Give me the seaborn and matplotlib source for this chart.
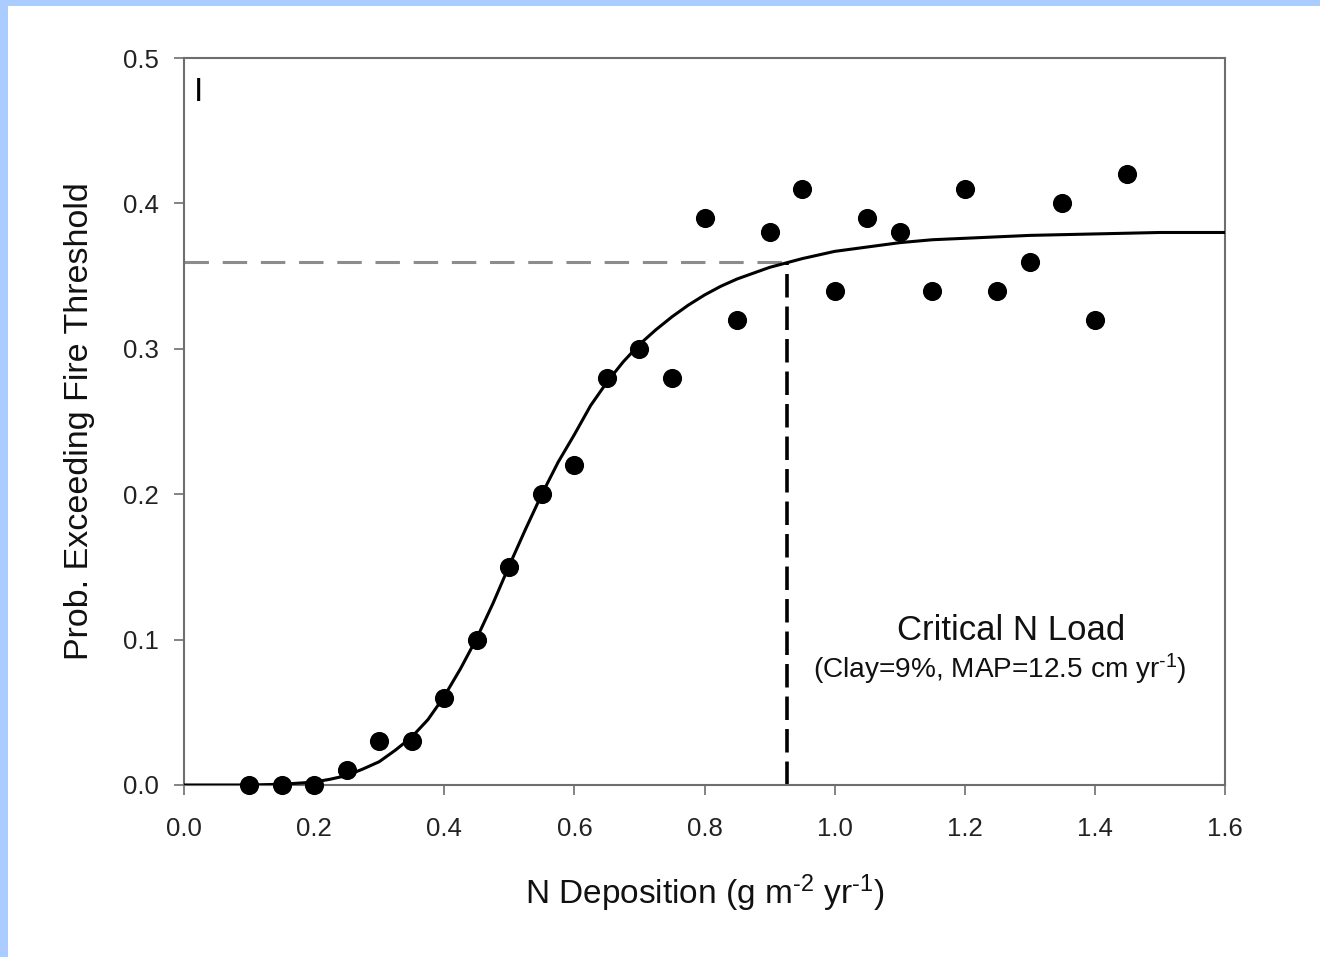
import matplotlib
matplotlib.use("Agg")
import matplotlib.pyplot as plt
import seaborn as sns
import pandas as pd
from matplotlib.patches import Rectangle

# Observed probability of exceeding the fire threshold
n_deposition = [0.10, 0.15, 0.20, 0.25, 0.30, 0.35, 0.40, 0.45, 0.50, 0.55,
                0.60, 0.65, 0.70, 0.75, 0.80, 0.85, 0.90, 0.95, 1.00, 1.05,
                1.10, 1.15, 1.20, 1.25, 1.30, 1.35, 1.40, 1.45]
prob_exceed = [0.00, 0.00, 0.00, 0.01, 0.03, 0.03, 0.06, 0.10, 0.15, 0.20,
               0.22, 0.28, 0.30, 0.28, 0.39, 0.32, 0.38, 0.41, 0.34, 0.39,
               0.38, 0.34, 0.41, 0.34, 0.36, 0.40, 0.32, 0.42]

# Fitted response curve
fit_x = [0.00, 0.05, 0.10, 0.15, 0.20, 0.225, 0.25, 0.275, 0.30, 0.325,
         0.35, 0.375, 0.40, 0.425, 0.45, 0.475, 0.50, 0.525, 0.55, 0.575,
         0.60, 0.625, 0.65, 0.675, 0.70, 0.725, 0.75, 0.775, 0.80, 0.825,
         0.85, 0.875, 0.90, 0.95, 1.00, 1.05, 1.10, 1.15, 1.20, 1.30,
         1.40, 1.50, 1.60]
fit_y = [0.000, 0.000, 0.000, 0.0005, 0.002, 0.004, 0.0065, 0.011, 0.016, 0.024,
         0.033, 0.045, 0.061, 0.080, 0.101, 0.125, 0.151, 0.176, 0.200, 0.222,
         0.241, 0.261, 0.277, 0.291, 0.303, 0.313, 0.322, 0.330, 0.337, 0.343,
         0.348, 0.352, 0.356, 0.362, 0.367, 0.370, 0.373, 0.375, 0.376, 0.378,
         0.379, 0.380, 0.380]

# Critical load where the fitted curve reaches the threshold probability
critical_load = 0.927
critical_prob = 0.36

x_ticks = [0.0, 0.2, 0.4, 0.6, 0.8, 1.0, 1.2, 1.4, 1.6]
y_ticks = [0.0, 0.1, 0.2, 0.3, 0.4, 0.5]

obs = pd.DataFrame({"x": n_deposition, "y": prob_exceed})
fit = pd.DataFrame({"x": fit_x, "y": fit_y})

sns.set_theme(style="white")
plt.rcParams["font.family"] = ["Liberation Sans", "DejaVu Sans"]
plt.rcParams["mathtext.fontset"] = "custom"
plt.rcParams["mathtext.rm"] = "Liberation Sans"
plt.rcParams["mathtext.it"] = "Liberation Sans"
plt.rcParams["mathtext.default"] = "regular"

fig = plt.figure(figsize=(13.2, 9.57), dpi=100)
fig.patch.set_facecolor("white")
ax = fig.add_axes([184 / 1320, 1 - 785 / 957, (1225 - 184) / 1320, (785 - 58) / 957])

# Page border strips
fig.patches.append(Rectangle((0, 0), 8 / 1320, 1, transform=fig.transFigure,
                             facecolor="#aaccff", edgecolor="none", zorder=-1))
fig.patches.append(Rectangle((0, 1 - 6 / 957), 1, 6 / 957, transform=fig.transFigure,
                             facecolor="#aaccff", edgecolor="none", zorder=-1))

# Threshold guides
ax.plot([0, critical_load], [critical_prob, critical_prob], color="#8c8c8c",
        lw=2.2, dashes=(8, 4.5), zorder=2)
ax.plot([critical_load, critical_load], [0, critical_prob], color="black",
        lw=2.6, dashes=(6.5, 2.5), zorder=2)

sns.lineplot(data=fit, x="x", y="y", ax=ax, color="black", lw=2.2,
             estimator=None, sort=False, zorder=3)
sns.scatterplot(data=obs, x="x", y="y", ax=ax, color="black", s=190,
                edgecolor="black", linewidth=0, zorder=4, clip_on=False)

ax.set_xlim(0, 1.6)
ax.set_ylim(0, 0.5)
ax.set_xticks(x_ticks)
ax.set_yticks(y_ticks)
ax.set_xticklabels([f"{v:.1f}" for v in x_ticks])
ax.set_yticklabels([f"{v:.1f}" for v in y_ticks])

for side in ["left", "right", "top", "bottom"]:
    ax.spines[side].set_color("#6e6e6e")
    ax.spines[side].set_linewidth(1.5)
    ax.spines[side].set_visible(True)

ax.tick_params(axis="both", which="major", direction="out", length=7, width=1.2,
               color="#6e6e6e", labelsize=18.5, labelcolor="#222222",
               bottom=True, left=True)
ax.tick_params(axis="x", pad=16)
ax.tick_params(axis="y", pad=11)

ax.set_xlabel("N Deposition (g m$^{\u20102}$ yr$^{\u20101}$)", fontsize=24,
              color="#111111", labelpad=22.5)
ax.set_ylabel("Prob. Exceeding Fire Threshold", fontsize=24.5, color="#111111",
              labelpad=20.5)

ax.text(0.023, 0.476, "I", fontsize=24, ha="center", va="center", color="black")
ax.text(1.271, 0.1066, "Critical N Load", fontsize=25, ha="center", va="center",
        color="#111111")
ax.text(1.254, 0.0798, "(Clay=9%, MAP=12.5 cm yr$^{\u20101}$)", fontsize=20.2,
        ha="center", va="center", color="#111111")

fig.savefig("out.png", dpi=100, facecolor="white")
